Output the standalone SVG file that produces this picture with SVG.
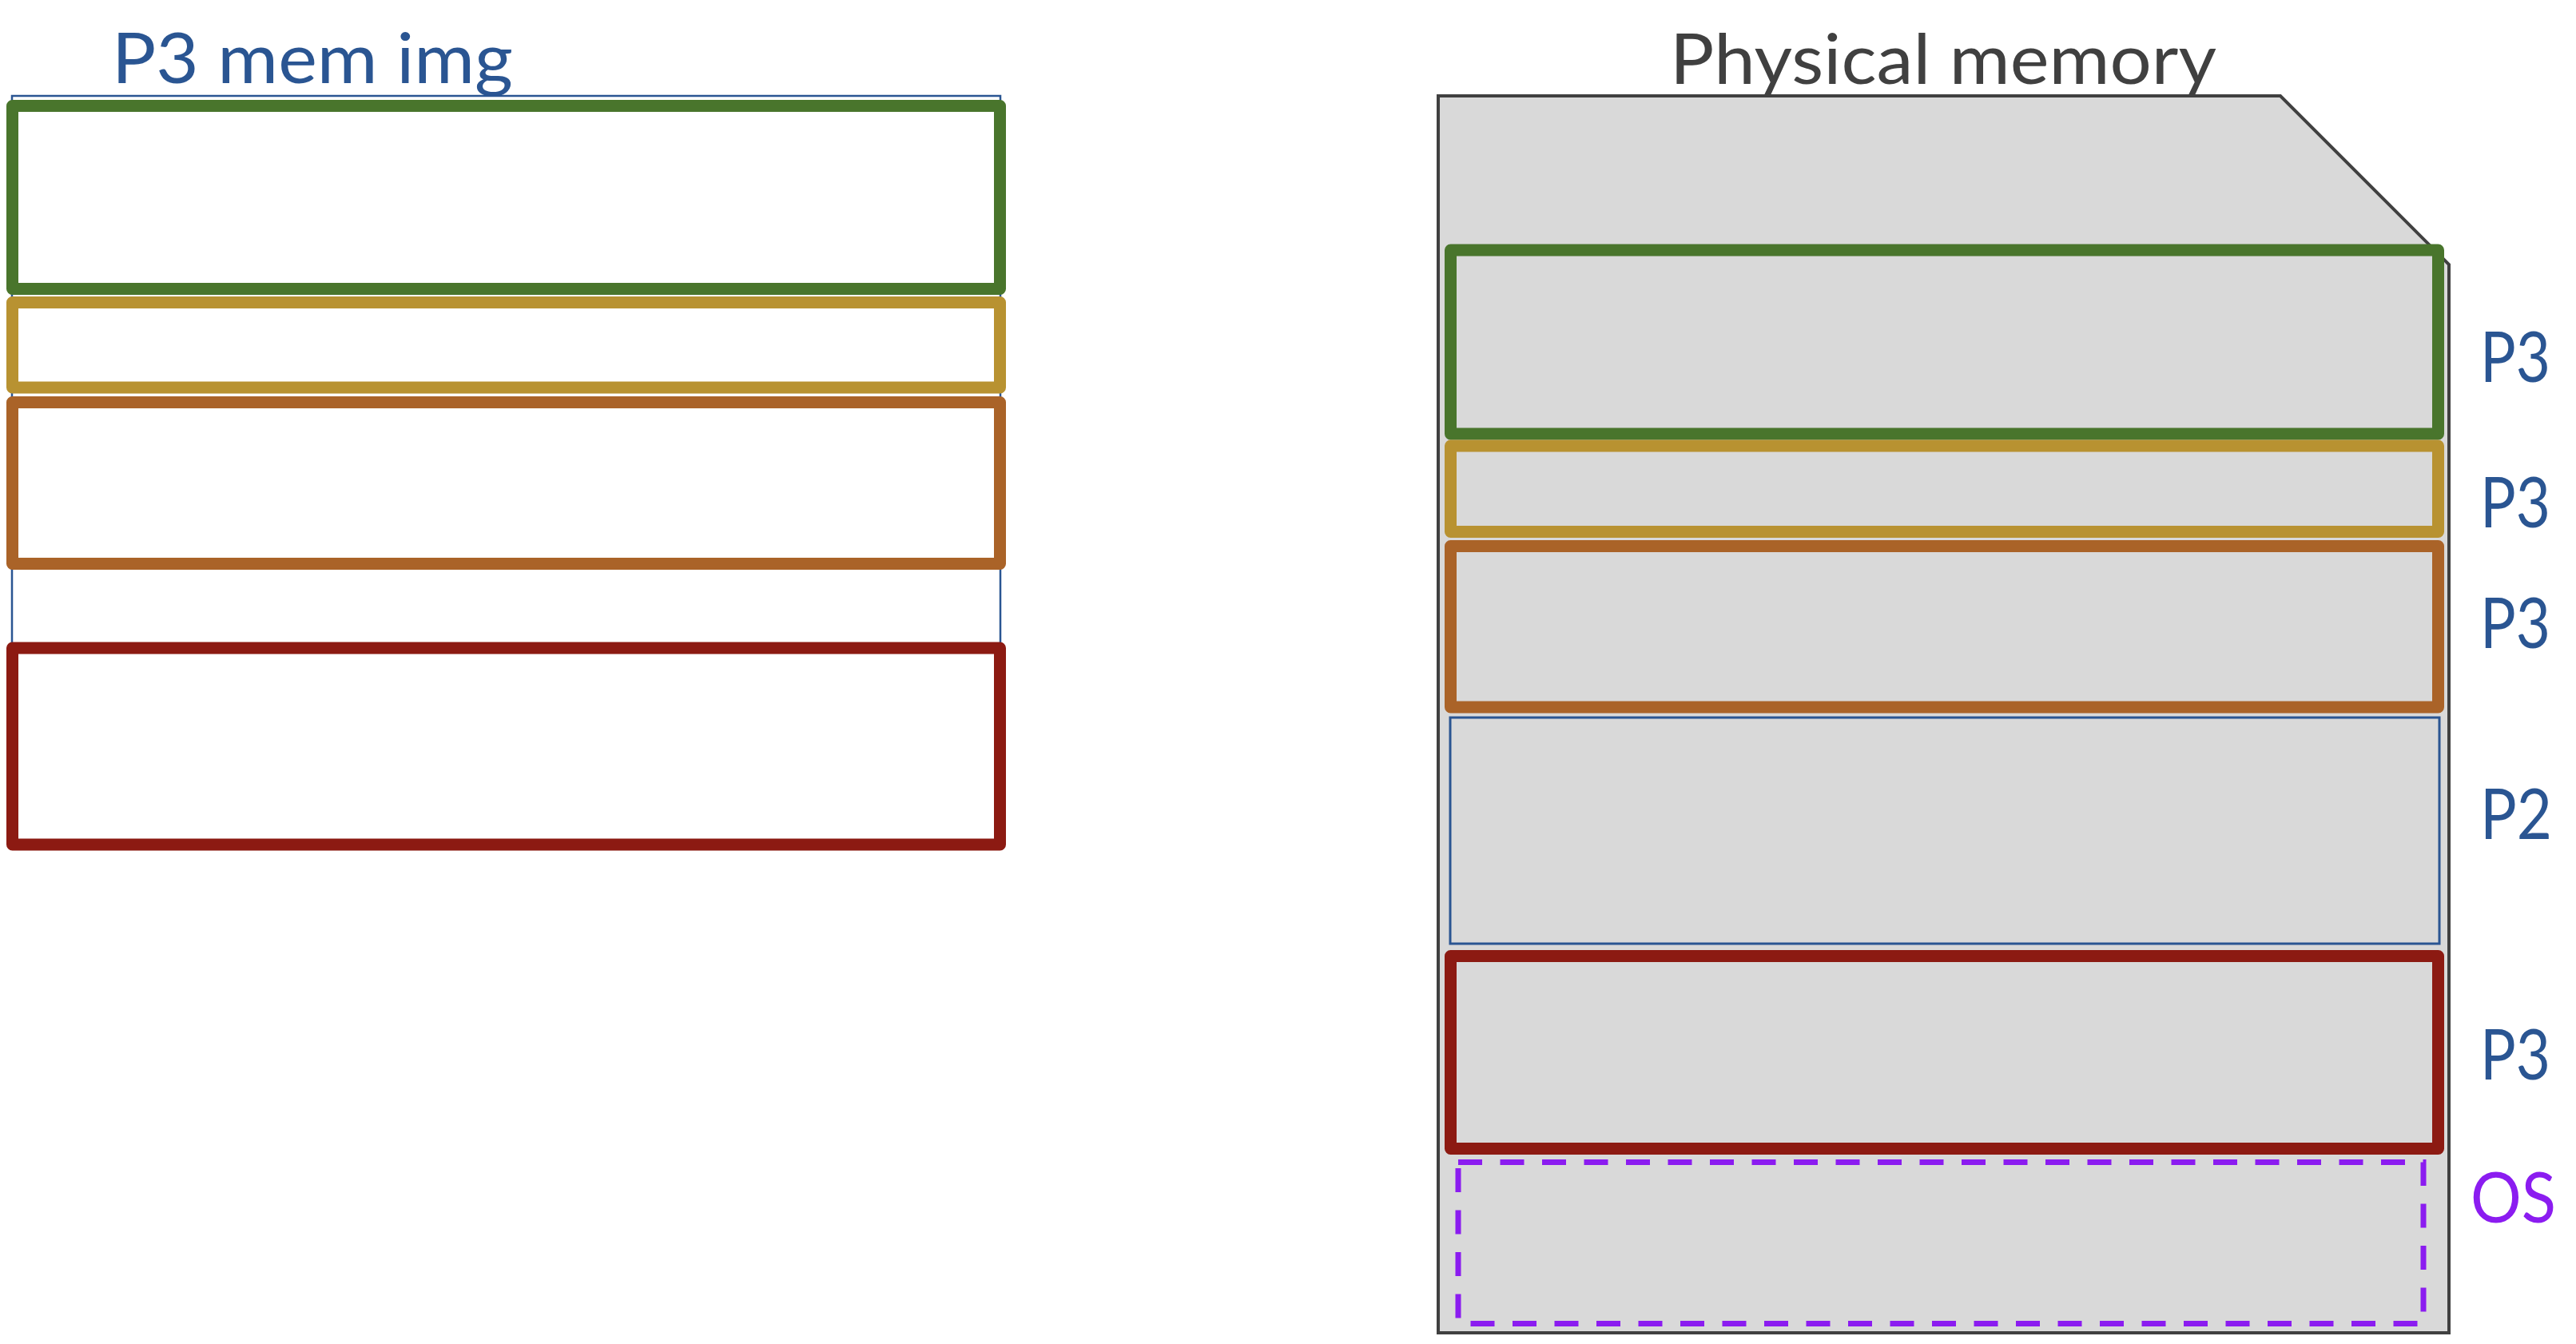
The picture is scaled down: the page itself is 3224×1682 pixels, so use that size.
<svg xmlns="http://www.w3.org/2000/svg" width="3224" height="1682" viewBox="0 0 3224 1682">
  <style>
    .lbl { font-family: Lato, "Open Sans", "Liberation Sans", sans-serif; font-size: 88px; }
    .blue { fill: #2A5592; }
    .seg { stroke-width: 15; stroke-linejoin: round; }
    .left { fill: #FFFFFF; }
    .right { fill: none; }
    .green { stroke: #49752C; }
    .gold { stroke: #B89231; }
    .brown { stroke: #AA6328; }
    .red { stroke: #8C1A12; }
  </style>
  <rect width="3224" height="1682" fill="#FFFFFF"/>

  <g id="p3-image">
    <text class="lbl blue" x="140" y="104" font-size="90" textLength="502" lengthAdjust="spacingAndGlyphs">P3 mem img</text>
    <rect id="p3-image-outline" x="15" y="120" width="1237" height="860" fill="#FFFFFF" stroke="#2A5592" stroke-width="2.5"/>
    <rect id="img-green" class="seg left green" x="15.5" y="132.5" width="1236" height="229"/>
    <rect id="img-gold" class="seg left gold" x="15.5" y="378.5" width="1236" height="106.5"/>
    <rect id="img-brown" class="seg left brown" x="15.5" y="503.5" width="1236" height="202"/>
    <rect id="img-red" class="seg left red" x="15.5" y="811" width="1236" height="246"/>
  </g>

  <g id="physical-memory">
    <text class="lbl" fill="#404040" x="2090" y="105" font-size="92" textLength="684" lengthAdjust="spacingAndGlyphs">Physical memory</text>
    <path d="M1800,120 H2854 L3065,331 V1668 H1800 Z" fill="#D9D9D9" stroke="#404040" stroke-width="4" stroke-linejoin="miter"/>
  </g>

  <g id="pm-green">
    <rect class="seg right green" x="1815.5" y="313" width="1236" height="230"/>
    <text class="lbl blue" x="3104" y="478" font-size="92" textLength="88" lengthAdjust="spacingAndGlyphs">P3</text>
  </g>
  <g id="pm-gold">
    <rect class="seg right gold" x="1815.5" y="558" width="1236" height="107.5"/>
    <text class="lbl blue" x="3104" y="660" font-size="92" textLength="88" lengthAdjust="spacingAndGlyphs">P3</text>
  </g>
  <g id="pm-brown">
    <rect class="seg right brown" x="1815.5" y="683.5" width="1236" height="201.5"/>
    <text class="lbl blue" x="3104" y="811" font-size="92" textLength="88" lengthAdjust="spacingAndGlyphs">P3</text>
  </g>
  <g id="pm-p2">
    <rect x="1815" y="898" width="1238" height="283" fill="none" stroke="#2A5592" stroke-width="3"/>
    <text class="lbl blue" x="3104" y="1050" font-size="92" textLength="90" lengthAdjust="spacingAndGlyphs">P2</text>
  </g>
  <g id="pm-red">
    <rect class="seg right red" x="1815.5" y="1196.5" width="1236" height="241"/>
    <text class="lbl blue" x="3104" y="1351" font-size="92" textLength="88" lengthAdjust="spacingAndGlyphs">P3</text>
  </g>
  <g id="pm-os">
    <rect x="1825" y="1454.5" width="1208" height="202" fill="none" stroke="#8B1CF0" stroke-width="7" stroke-dasharray="30 22.5"/>
    <text class="lbl" fill="#8B1CF0" x="3092" y="1530" font-size="92" textLength="107" lengthAdjust="spacingAndGlyphs">OS</text>
  </g>
</svg>
